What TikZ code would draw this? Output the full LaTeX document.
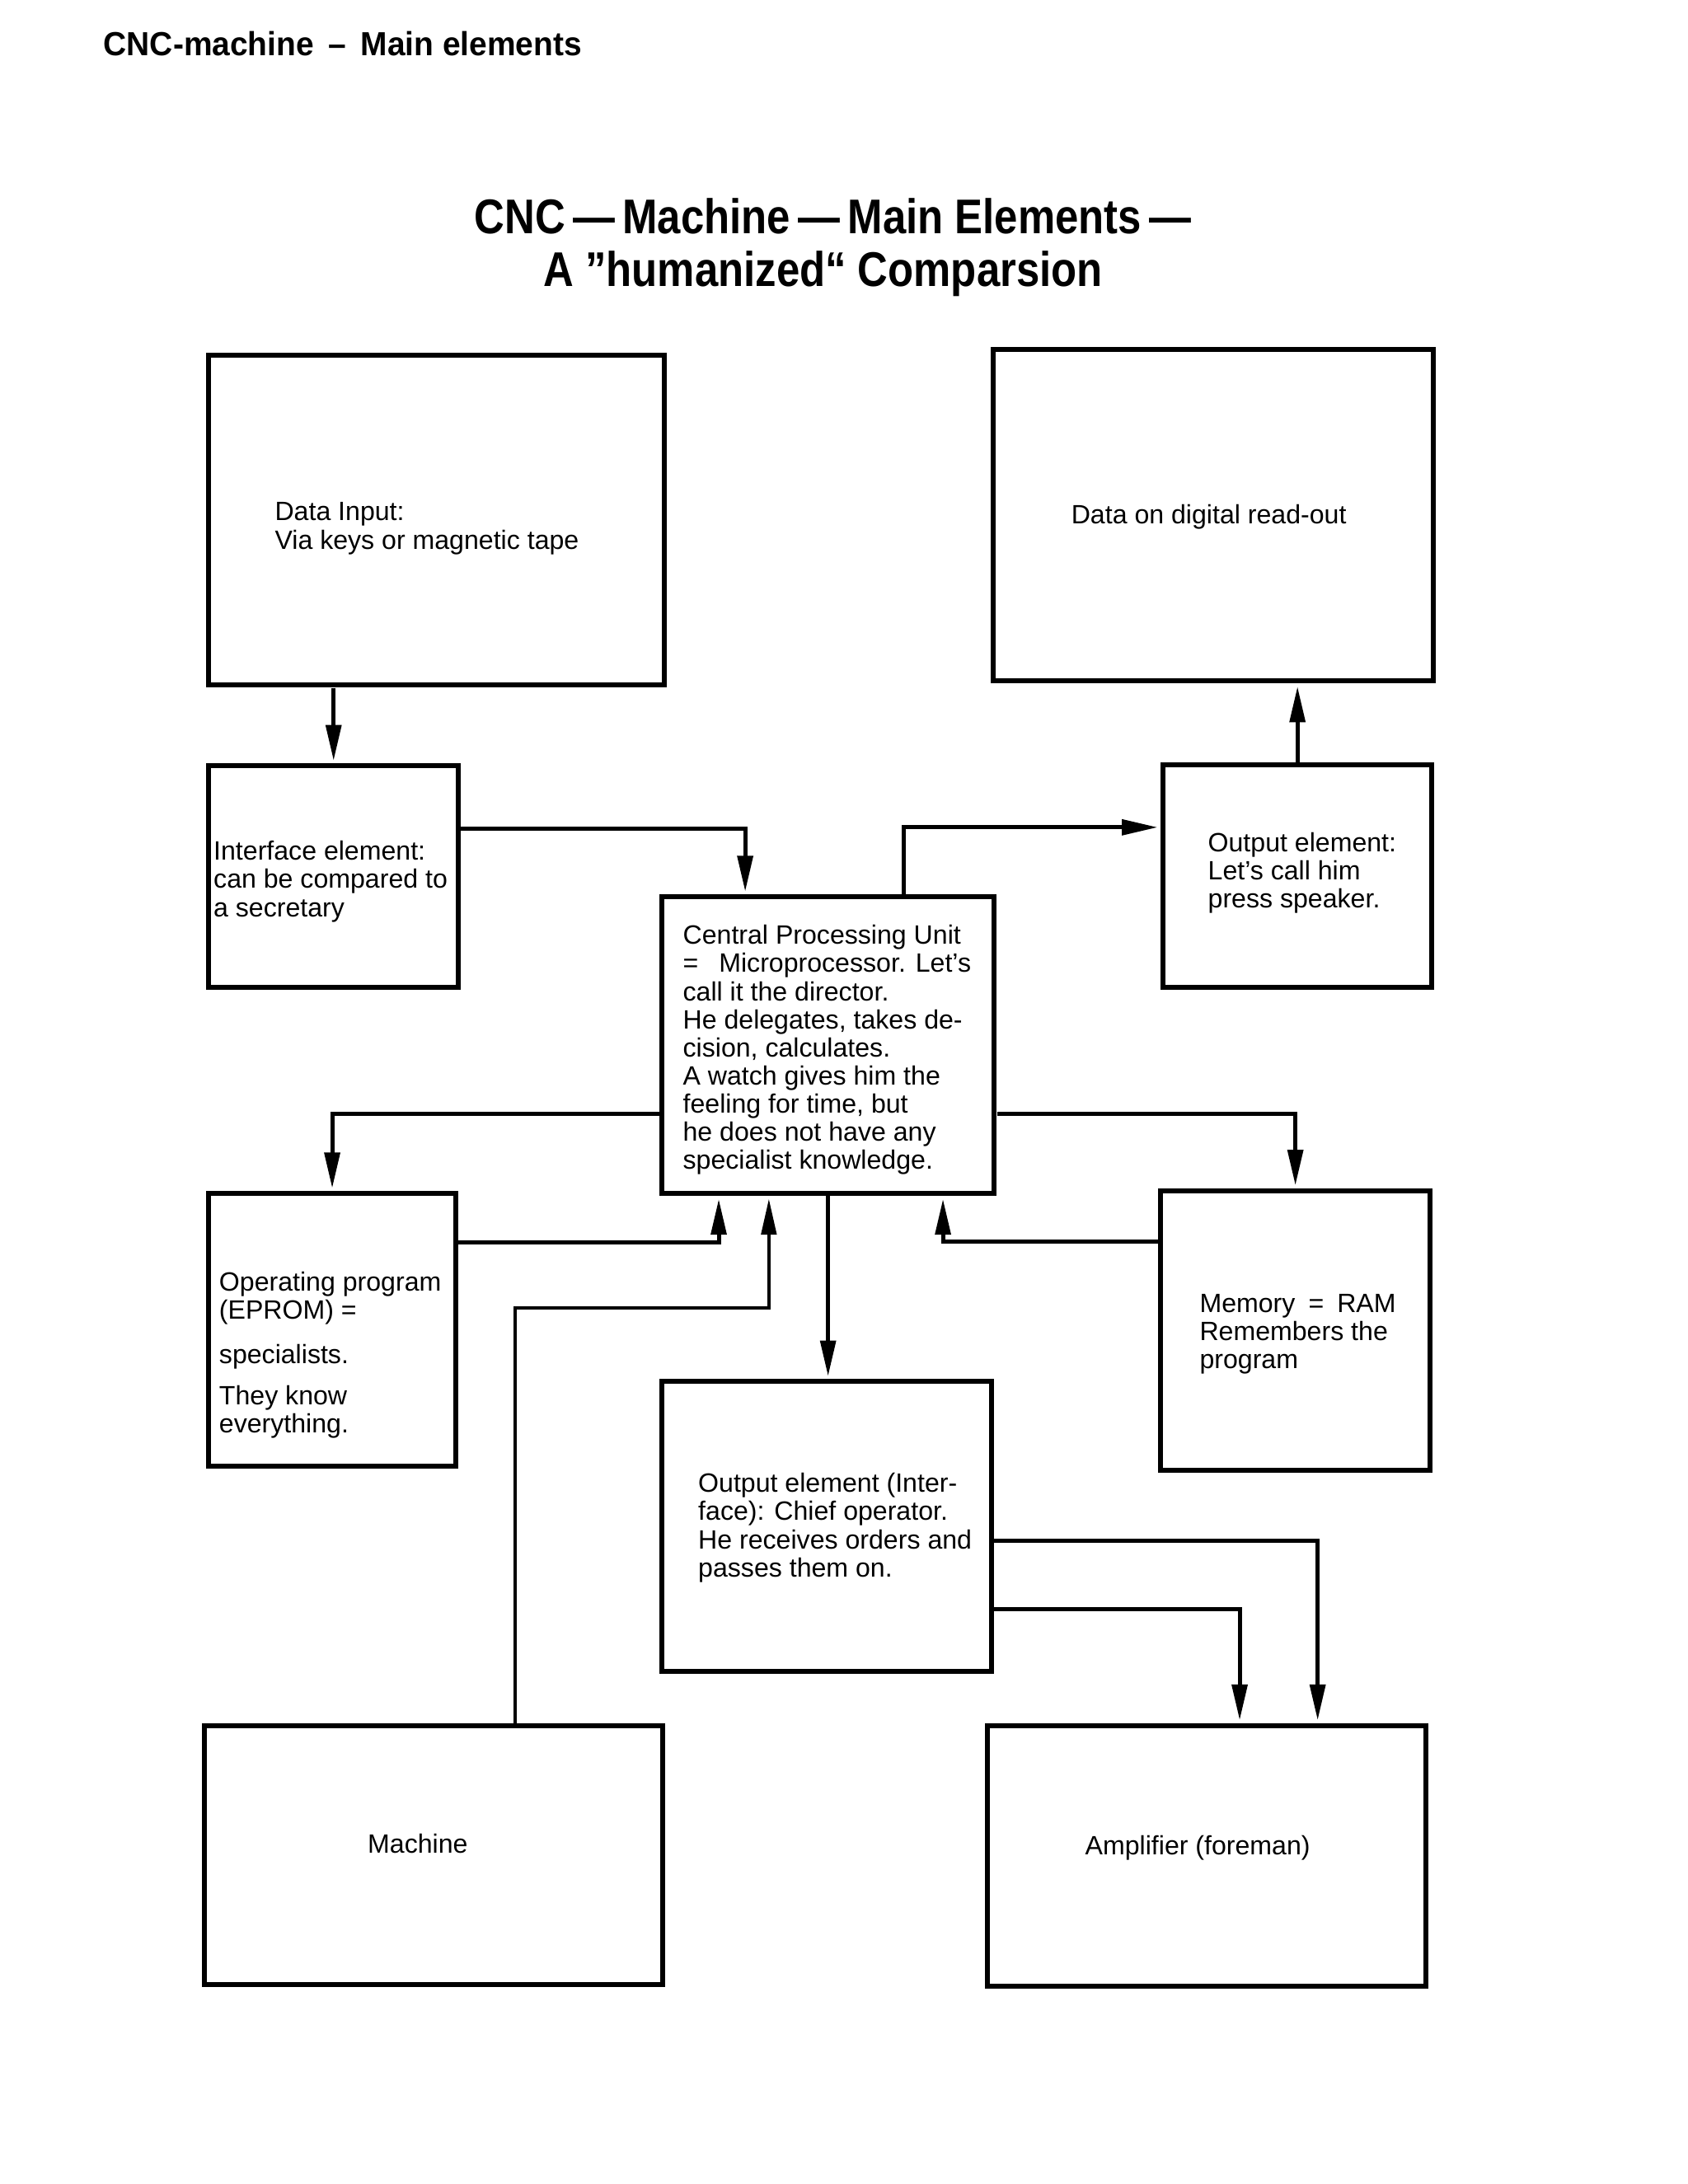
\documentclass[tikz,border=0pt]{standalone}
\usepackage{fontspec}
\setmainfont{Liberation Sans}
\newfontfamily\headfont[FakeStretch=0.96]{Liberation Sans}
\newfontfamily\titlefont[FakeStretch=0.86]{Liberation Sans}
\usetikzlibrary{arrows.meta}

\tikzset{
  box/.style={draw, line width=1.8pt, inner sep=0pt},
  txt/.style={align=left, inner sep=0pt, font=\fontsize{9.5}{10.1}\selectfont},
  link/.style={line width=1.5pt, -{Triangle[length=13pt,width=5.5pt]}, shorten >=1pt},
}

\begin{document}
\begin{tikzpicture}[x=0.5pt,y=-0.5pt,scale=1.01,transform shape]
\useasboundingbox (0,0) rectangle (1211.88,1568.32);

% headings
\node[anchor=north west,inner sep=0pt,font=\headfont\bfseries\fontsize{12}{14}\selectfont] (head) at (74,22) {CNC-machine \,–\, Main elements};
\node[anchor=north,inner sep=0pt,font=\titlefont\bfseries\fontsize{17.5}{19}\selectfont] (title) at (598,142) {CNC\kern2.8pt—\kern2.8pt Machine\kern2.8pt—\kern2.8pt Main Elements\kern2.8pt—};
\node[anchor=north,inner sep=0pt,font=\titlefont\bfseries\fontsize{17.5}{19}\selectfont] (subtitle) at (591,180) {A ”humanized“ Comparsion};

% boxes
\node[box,minimum width=163.5pt,minimum height=118.5pt] (datain) at (313.5,373.5) {};
\node[box,minimum width=158pt,minimum height=119pt] (readout) at (871,370) {};
\node[box,minimum width=89.5pt,minimum height=79.5pt] (iface) at (239.5,629.5) {};
\node[box,minimum width=119.5pt,minimum height=106.5pt] (cpu) at (594.5,750.5) {};
\node[box,minimum width=96.5pt,minimum height=80pt] (outel) at (931.5,629) {};
\node[box,minimum width=88.5pt,minimum height=98pt] (prog) at (238.5,955) {};
\node[box,minimum width=97pt,minimum height=100.5pt] (mem) at (930,955.5) {};
\node[box,minimum width=118.5pt,minimum height=104pt] (outif) at (593.5,1096) {};
\node[box,minimum width=164.5pt,minimum height=93pt] (mach) at (311.5,1332) {};
\node[box,minimum width=157.5pt,minimum height=93.5pt] (amp) at (866.5,1332.5) {};

% texts
\node[txt,anchor=west] (datain-t) at (197,379.5) {Data Input:\\Via keys or magnetic tape};
\node[txt] (readout-t) at (868,371) {Data on digital read-out};
\node[txt,anchor=west] (iface-t) at (153,633) {Interface element:\\can be compared to\\a secretary};
\node[txt,anchor=west] (cpu-t) at (490,754) {Central Processing Unit\\=\enspace\ Microprocessor. Let’s\\call it the director.\\He delegates, takes de-\\cision, calculates.\\A watch gives him the\\feeling for time, but\\he does not have any\\specialist knowledge.};
\node[txt,anchor=west] (outel-t) at (867,627) {Output element:\\Let’s call him\\press speaker.};
\node[txt,anchor=west] (prog-t) at (157,973) {Operating program\\(EPROM) =\\[6pt]specialists.\\[4.5pt]They know\\everything.};
\node[txt,anchor=west] (mem-t) at (861,958) {Memory\enspace=\enspace RAM\\Remembers the\\program};
\node[txt,anchor=west] (outif-t) at (501,1097) {Output element (Inter-\\face): Chief operator.\\He receives orders and\\passes them on.};
\node[txt] (mach-t) at (300,1324) {Machine};
\node[txt] (amp-t) at (860,1327) {Amplifier (foreman)};

% connections
\draw[link] (iface.north |- datain.south) -- (iface.north);
\draw[link] ([yshift=-23.5pt]iface.north east) -| ([xshift=-29.75pt]cpu.north);
\draw[link] ([xshift=27.25pt]cpu.north) |- ([yshift=17.5pt]outel.west);
\draw[link] (outel.north) -- (outel.north |- readout.south);
\draw[link] ([yshift=-24.75pt]cpu.west) -| (prog.north);
\draw[link] ([yshift=-24.75pt]cpu.east) -| (mem.north);
\draw[link] ([yshift=-18.5pt]prog.north east) -| ([xshift=-39.25pt]cpu.south);
\draw[link,line width=1.1pt] ([xshift=29.25pt]mach.north) -- ++(0,-298) -| ([xshift=-21.25pt]cpu.south);
\draw[link] (cpu.south) -- (cpu.south |- outif.north);
\draw[link] ([yshift=-19pt]mem.north west) -| ([xshift=41.25pt]cpu.south);
\draw[link] ([yshift=-58pt]outif.north east) -| ([xshift=39.75pt]amp.north);
\draw[link] ([yshift=-82.5pt]outif.north east) -| ([xshift=11.75pt]amp.north);
\end{tikzpicture}
\end{document}
